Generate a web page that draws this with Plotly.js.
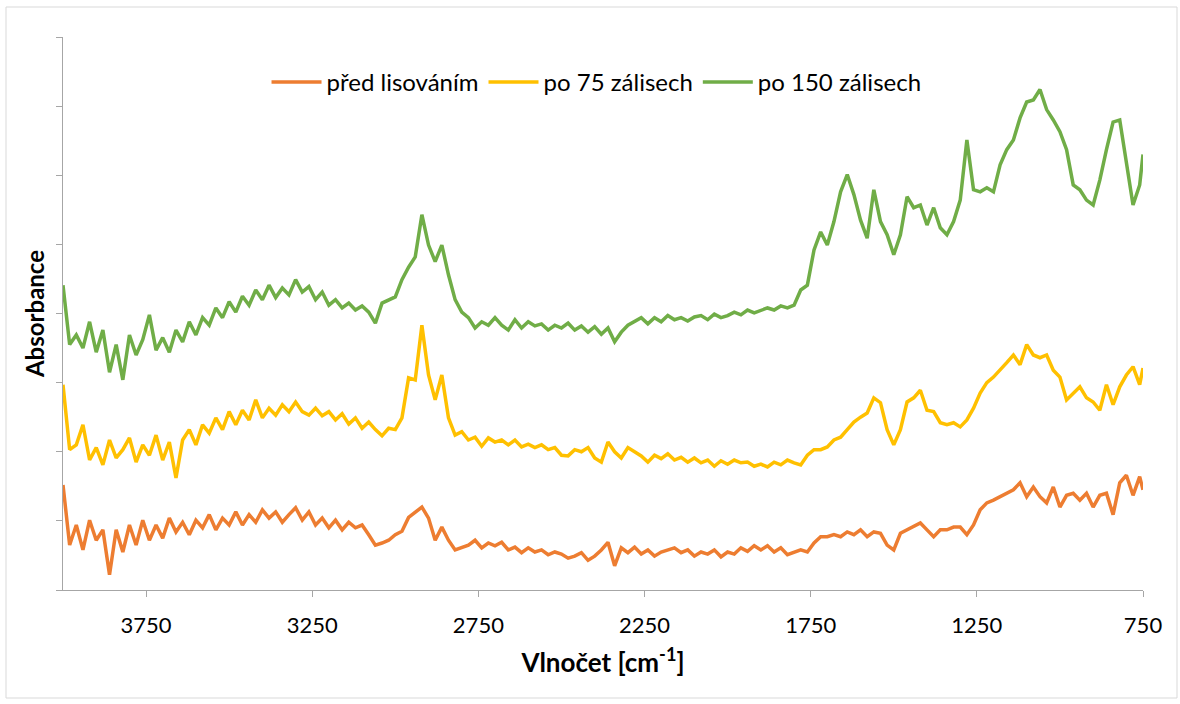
<!DOCTYPE html>
<html>
<head>
<meta charset="utf-8">
<script src="https://cdn.plot.ly/plotly-3.0.1.min.js"></script>
<style>
  html, body { margin: 0; padding: 0; background: #ffffff; }
  #chart { width: 1180px; height: 704px; }
</style>
</head>
<body>
<div id="chart"></div>
<script>
// Wavenumbers [cm-1]
const wavenumbers = [
  4000,3980,3960,3940,3920, 3900,3880,3860,3840,3820,
  3800,3780,3760,3740,3720, 3700,3680,3660,3640,3620,
  3600,3580,3560,3540,3520, 3500,3480,3460,3440,3420,
  3400,3380,3360,3340,3320, 3300,3280,3260,3240,3220,
  3200,3180,3160,3140,3120, 3100,3080,3060,3040,3020,
  3000,2980,2960,2940,2920, 2900,2880,2860,2840,2820,
  2800,2780,2760,2740,2720, 2700,2680,2660,2640,2620,
  2600,2580,2560,2540,2520, 2500,2480,2460,2440,2420,
  2400,2380,2360,2340,2320, 2300,2280,2260,2240,2220,
  2200,2180,2160,2140,2120, 2100,2080,2060,2040,2020,
  2000,1980,1960,1940,1920, 1900,1880,1860,1840,1820,
  1800,1780,1760,1740,1720, 1700,1680,1660,1640,1620,
  1600,1580,1560,1540,1520, 1500,1480,1460,1440,1420,
  1400,1380,1360,1340,1320, 1300,1280,1260,1240,1220,
  1200,1180,1160,1140,1120, 1100,1080,1060,1040,1020,
  1000,980,960,940,920, 900,880,860,840,820,
  800,780,760,750
];

// před lisováním
const predLisovanim = [
  0.152,0.065,0.094,0.058,0.101, 0.072,0.087,0.022,0.087,0.055,
  0.094,0.065,0.101,0.072,0.094, 0.075,0.104,0.084,0.098,0.080,
  0.101,0.090,0.109,0.087,0.104, 0.094,0.113,0.094,0.109,0.098,
  0.116,0.104,0.113,0.098,0.109, 0.119,0.101,0.113,0.094,0.104,
  0.090,0.101,0.087,0.098,0.090, 0.094,0.080,0.065,0.068,0.072,
  0.080,0.085,0.105,0.113,0.120, 0.104,0.072,0.091,0.072,0.058,
  0.061,0.065,0.072,0.061,0.068, 0.064,0.069,0.058,0.062,0.054,
  0.061,0.055,0.058,0.051,0.055, 0.052,0.046,0.049,0.054,0.043,
  0.049,0.058,0.069,0.035,0.061, 0.054,0.062,0.052,0.058,0.049,
  0.055,0.058,0.061,0.054,0.058, 0.049,0.055,0.052,0.058,0.048,
  0.055,0.052,0.061,0.056,0.064, 0.058,0.064,0.055,0.061,0.051,
  0.054,0.058,0.055,0.068,0.077, 0.077,0.080,0.077,0.084,0.080,
  0.087,0.077,0.084,0.082,0.065, 0.058,0.082,0.087,0.091,0.097,
  0.087,0.077,0.087,0.087,0.091, 0.091,0.080,0.094,0.116,0.126,
  0.130,0.135,0.140,0.145,0.155, 0.135,0.149,0.135,0.126,0.149,
  0.120,0.137,0.140,0.130,0.140, 0.120,0.137,0.140,0.109,0.155,
  0.166,0.137,0.164,0.145
];

// po 75 zálisech
const po75 = [
  0.297,0.203,0.210,0.239,0.188, 0.206,0.181,0.217,0.191,0.203,
  0.220,0.185,0.210,0.195,0.224, 0.188,0.214,0.162,0.217,0.232,
  0.210,0.239,0.227,0.249,0.232, 0.258,0.239,0.260,0.246,0.275,
  0.249,0.263,0.253,0.268,0.258, 0.272,0.258,0.253,0.263,0.252,
  0.258,0.246,0.255,0.240,0.249, 0.234,0.243,0.232,0.223,0.234,
  0.232,0.249,0.307,0.304,0.383, 0.311,0.275,0.311,0.249,0.224,
  0.229,0.217,0.221,0.208,0.220, 0.214,0.217,0.210,0.217,0.207,
  0.211,0.206,0.210,0.203,0.206, 0.195,0.194,0.203,0.200,0.206,
  0.191,0.185,0.214,0.200,0.191, 0.206,0.200,0.194,0.185,0.195,
  0.190,0.197,0.188,0.192,0.185, 0.191,0.184,0.188,0.179,0.187,
  0.182,0.188,0.184,0.185,0.179, 0.182,0.178,0.185,0.181,0.188,
  0.184,0.181,0.195,0.203,0.203, 0.207,0.217,0.221,0.232,0.243,
  0.250,0.256,0.278,0.271,0.232, 0.210,0.232,0.272,0.278,0.289,
  0.260,0.258,0.242,0.239,0.242, 0.236,0.246,0.263,0.285,0.300,
  0.308,0.318,0.329,0.340,0.326, 0.355,0.340,0.336,0.340,0.318,
  0.308,0.275,0.285,0.294,0.278, 0.272,0.260,0.297,0.268,0.294,
  0.311,0.323,0.297,0.321
];

// po 150 zálisech
const po150 = [
  0.441,0.355,0.369,0.350,0.388, 0.344,0.376,0.315,0.355,0.304,
  0.369,0.340,0.362,0.398,0.347, 0.365,0.344,0.376,0.359,0.388,
  0.369,0.394,0.383,0.408,0.394, 0.417,0.402,0.425,0.412,0.434,
  0.420,0.441,0.423,0.437,0.427, 0.449,0.431,0.439,0.420,0.431,
  0.412,0.420,0.408,0.415,0.405, 0.411,0.402,0.386,0.415,0.420,
  0.424,0.449,0.467,0.482,0.543, 0.499,0.475,0.499,0.456,0.420,
  0.402,0.394,0.379,0.388,0.383, 0.394,0.383,0.376,0.391,0.379,
  0.388,0.382,0.385,0.376,0.383, 0.379,0.386,0.376,0.382,0.373,
  0.381,0.370,0.379,0.359,0.373, 0.383,0.388,0.394,0.385,0.394,
  0.388,0.397,0.391,0.394,0.389, 0.395,0.397,0.391,0.399,0.394,
  0.397,0.402,0.398,0.405,0.401, 0.404,0.408,0.405,0.411,0.408,
  0.412,0.434,0.441,0.492,0.518, 0.499,0.533,0.576,0.601,0.572,
  0.535,0.509,0.579,0.533,0.514, 0.485,0.514,0.569,0.553,0.557,
  0.528,0.553,0.524,0.514,0.533, 0.564,0.651,0.579,0.576,0.582,
  0.576,0.615,0.637,0.651,0.683, 0.706,0.709,0.724,0.695,0.680,
  0.663,0.637,0.586,0.579,0.564, 0.557,0.593,0.637,0.677,0.680,
  0.619,0.557,0.586,0.630
];

const seriesNames = ["před lisováním", "po 75 zálisech", "po 150 zálisech"];
const seriesColors = ["#ED7D31", "#FFC000", "#70AD47"];
const xTickValues = [3750, 3250, 2750, 2250, 1750, 1250, 750];

const FONT = "Lato, 'Open Sans', 'DejaVu Sans', sans-serif";
const seriesData = [predLisovanim, po75, po150];

const traces = seriesData.map((ys, i) => ({
  type: "scatter",
  mode: "lines",
  name: seriesNames[i],
  x: wavenumbers,
  y: ys,
  line: { color: seriesColors[i], width: 3.5 }
}));

const layout = {
  width: 1180,
  height: 704,
  paper_bgcolor: "#ffffff",
  plot_bgcolor: "#ffffff",
  margin: { l: 63, r: 37, t: 37, b: 114 },
  font: { family: FONT, size: 22, color: "#000000" },
  showlegend: true,
  legend: {
    orientation: "h",
    x: 0.494, xanchor: "center",
    y: 0.918, yanchor: "middle",
    font: { family: FONT, size: 24, color: "#000000" },
    bgcolor: "rgba(0,0,0,0)",
    itemwidth: 50,
    traceorder: "normal"
  },
  xaxis: {
    range: [4000, 750],
    tickmode: "array",
    tickvals: xTickValues,
    ticks: "outside",
    ticklen: 6,
    tickcolor: "#a6a6a6",
    showline: true,
    linecolor: "#a6a6a6",
    linewidth: 1,
    showgrid: false,
    zeroline: false,
    ticklabelstandoff: 10,
    tickfont: { family: FONT, size: 22, color: "#000000" },
    title: {
      text: "<b>Vlnočet [cm<sup>-1</sup>]</b>",
      font: { family: FONT, size: 26, color: "#000000" },
      standoff: 16
    }
  },
  yaxis: {
    range: [0, 0.8],
    dtick: 0.1,
    tick0: 0,
    ticks: "outside",
    ticklen: 6,
    tickcolor: "#a6a6a6",
    showline: true,
    linecolor: "#a6a6a6",
    linewidth: 1,
    showgrid: false,
    zeroline: false,
    showticklabels: false,
    title: {
      text: "<b>Absorbance</b>",
      font: { family: FONT, size: 24, color: "#000000" },
      standoff: 4
    }
  },
  shapes: [{
    type: "rect",
    xref: "paper", yref: "paper",
    x0: (6 - 63) / 1080, x1: (1177 - 63) / 1080,
    y0: (590 - 698) / 553, y1: (590 - 7) / 553,
    line: { color: "#d9d9d9", width: 1 },
    fillcolor: "rgba(0,0,0,0)",
    layer: "below"
  }]
};

Plotly.newPlot("chart", traces, layout, { displayModeBar: false, staticPlot: true });
</script>
</body>
</html>
